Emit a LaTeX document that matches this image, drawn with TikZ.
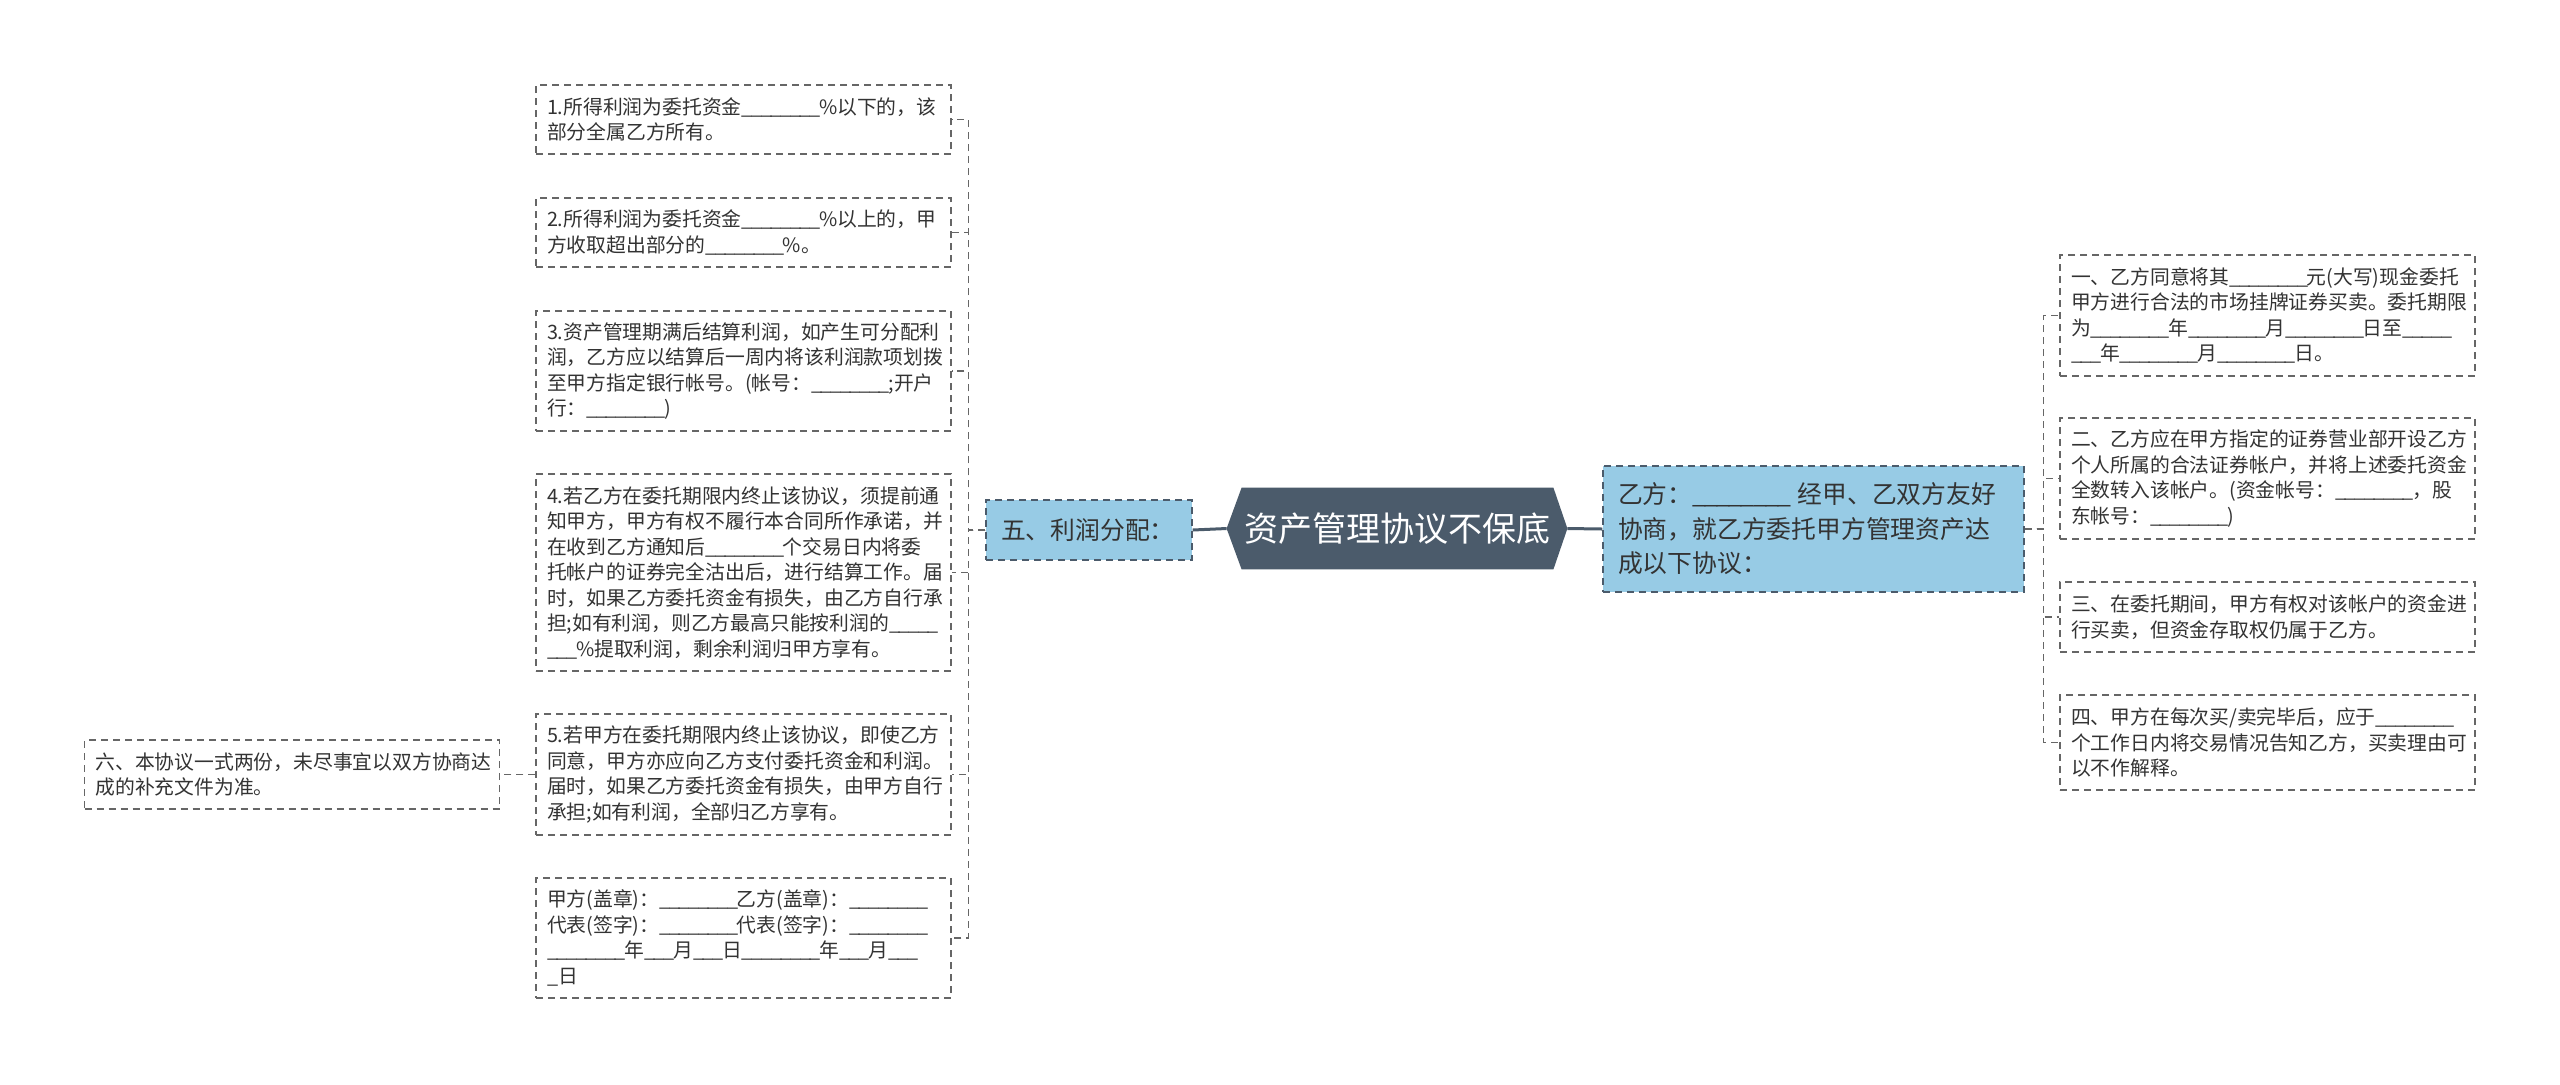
\documentclass[tikz,border=0pt]{standalone}
\usepackage{fontspec}
\setmainfont{Noto Sans CJK SC}
\usetikzlibrary{backgrounds}
\definecolor{rootfill}{HTML}{4B5B6B}
\definecolor{subfill}{HTML}{97CBE5}
\definecolor{textgray}{HTML}{333333}
\definecolor{linegray}{HTML}{666666}
\newcommand\fillin[1]{\foreach \k in {1,...,#1}{\_\kern-0.07em}}
\tikzset{
	leaf/.style={draw=linegray, dash pattern=on 3.5pt off 2.5pt, line width=0.6pt, text=textgray,
		inner xsep=5.5pt, inner ysep=0pt, text width=196.5pt, align=left,
		font=\fontsize{9.9pt}{12.75pt}\selectfont},
	sub/.style={leaf, fill=subfill, draw=rootfill, inner xsep=7.5pt,
		font=\fontsize{12.4pt}{17.25pt}\selectfont},
	link/.style={draw=linegray, dash pattern=on 3.5pt off 2.5pt, line width=0.6pt},
	trunk/.style={draw=rootfill, line width=1.5pt},
}
\begin{document}
\begin{tikzpicture}[x=0.5pt,y=-0.5pt]
		\useasboundingbox (0,0) rectangle (2560,1084);
		
		\node[text=white, font=\fontsize{17pt}{20pt}\selectfont, minimum width=170pt,
		minimum height=40.5pt, inner sep=0pt] (root) at (1397,528.5) {资产管理协议不保底};
		\begin{scope}[on background layer]
		\fill[white] (0,0) rectangle (2560,1084);
		\fill[rootfill] (root.west) -- ([xshift=7.5pt]root.north west) -- ([xshift=-7pt]root.north east)
		-- (root.east) -- ([xshift=-7pt]root.south east) -- ([xshift=7.5pt]root.south west) -- cycle;
		\end{scope}
		
		\node[sub, text width=88pt, minimum height=30pt] (fiv) at (1089,530) {五、利润分配：};
		\node[sub, text width=195.5pt, minimum height=63pt] (party) at (1813.5,529)
		{乙方：\fillin{8} 经甲、乙双方友好\\协商，就乙方委托甲方管理资产达\\成以下协议：};
		
		%Left side
		\node[leaf, minimum height=34.5pt] (p1) at (743.5,119.5)
		{1.所得利润为委托资金\fillin{8}\%以下的，该\\部分全属乙方所有。};
		\node[leaf, minimum height=34.5pt] (p2) at (743.5,232.5)
		{2.所得利润为委托资金\fillin{8}\%以上的，甲\\方收取超出部分的\fillin{8}\%。};
		\node[leaf, minimum height=60pt] (p3) at (743.5,371)
		{3.资产管理期满后结算利润，如产生可分配利\\润，乙方应以结算后一周内将该利润款项划拨\\至甲方指定银行帐号。(帐号：\fillin{8};开户\\行：\fillin{8})};
		\node[leaf, minimum height=98.5pt] (p4) at (743.5,572.5)
		{4.若乙方在委托期限内终止该协议，须提前通\\知甲方，甲方有权不履行本合同所作承诺，并\\在收到乙方通知后\fillin{8}个交易日内将委\\托帐户的证券完全沽出后，进行结算工作。届\\时，如果乙方委托资金有损失，由乙方自行承\\担;如有利润，则乙方最高只能按利润的\fillin{5}\\\fillin{3}\%提取利润，剩余利润归甲方享有。};
		\node[leaf, minimum height=60.5pt] (p5) at (743.5,774.5)
		{5.若甲方在委托期限内终止该协议，即使乙方\\同意，甲方亦应向乙方支付委托资金和利润。\\届时，如果乙方委托资金有损失，由甲方自行\\承担;如有利润，全部归乙方享有。};
		\node[leaf, minimum height=60pt] (p6) at (743.5,938)
		{甲方(盖章)：\fillin{8}乙方(盖章)：\fillin{8}\\代表(签字)：\fillin{8}代表(签字)：\fillin{8}\\\fillin{8}年\fillin{3}月\fillin{3}日\fillin{8}年\fillin{3}月\fillin{3}\\\_日};
		\node[leaf, minimum height=34.5pt] (note) at (292,774.5)
		{六、本协议一式两份，未尽事宜以双方协商达\\成的补充文件为准。};
		
		%Right side
		\node[leaf, minimum height=60.5pt] (r1) at (2267.5,315.5)
		{一、乙方同意将其\fillin{8}元(大写)现金委托\\甲方进行合法的市场挂牌证券买卖。委托期限\\为\fillin{8}年\fillin{8}月\fillin{8}日至\fillin{5}\\\fillin{3}年\fillin{8}月\fillin{8}日。};
		\node[leaf, minimum height=60.5pt] (r2) at (2267.5,478.5)
		{二、乙方应在甲方指定的证券营业部开设乙方\\个人所属的合法证券帐户，并将上述委托资金\\全数转入该帐户。(资金帐号：\fillin{8}，股\\东帐号：\fillin{8})};
		\node[leaf, minimum height=35pt] (r3) at (2267.5,617)
		{三、在委托期间，甲方有权对该帐户的资金进\\行买卖，但资金存取权仍属于乙方。};
		\node[leaf, minimum height=47.5pt] (r4) at (2267.5,742.5)
		{四、甲方在每次买/卖完毕后，应于\fillin{8}\\个工作日内将交易情况告知乙方，买卖理由可\\以不作解释。};
		
		%Connectors
		\draw[trunk] (root.west) -- (fiv.east);
		\draw[trunk] (root.east) -- (party.west);
		\foreach \n in {1,...,6}
		\draw[link] (fiv.west) -- ++(-17,0) |- (p\n.east);
		\foreach \n in {1,...,4}
		\draw[link] (party.east) -- ++(19,0) |- (r\n.west);
		\draw[link] (p5.west) -- (note.east);
\end{tikzpicture}
\end{document}
